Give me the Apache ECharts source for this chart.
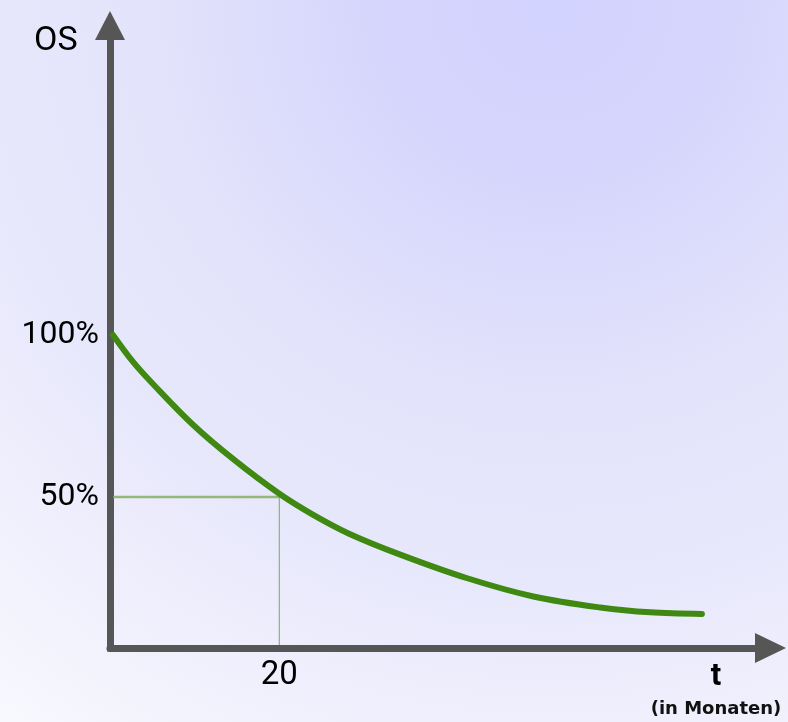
<!DOCTYPE html>
<html><head><meta charset="utf-8">
<script src="https://cdn.jsdelivr.net/npm/echarts@6/dist/echarts.min.js"></script>
<style>html,body{margin:0;padding:0;background:#fff}#c{width:788px;height:722px}</style>
</head><body><div id="c"></div>
<script>
// Data
const months   = [0.35, 2.75, 5.1, 9.8, 14.6, 20, 24, 28.3, 34.2, 42.1, 50, 57.9, 63.8, 69.9];
const survival = [100, 91.6, 84.8, 72.3, 61.6, 51.0, 44.5, 38.6, 32.3, 25.0, 19.3, 15.9, 14.4, 13.9];
const refH_x = [0.4, 20];
const refH_y = [50, 50];
const refV_x = [20, 20];
const refV_y = [50, 4.3];
const yTicks = [50, 100];
const xTicks = [20];
const yAxisTitle = 'OS';
const xAxisTitle = 't';
const xAxisUnit = '(in Monaten)';

const zip = (a, b) => a.map((v, i) => [v, b[i]]);
const FONT = "Roboto, 'Liberation Sans', sans-serif";

const chart = echarts.init(document.getElementById('c'), null, {renderer: 'canvas'});
chart.setOption({
  animation: false,
  backgroundColor: {
    type: 'radial', x: 0.7, y: 0, r: 1.25,
    colorStops: [
      {offset: 0, color: '#d2d2ff'},
      {offset: 0.2, color: '#d6d6fd'},
      {offset: 0.45, color: '#e3e3fb'},
      {offset: 0.65, color: '#e8e8fc'},
      {offset: 1, color: '#f8f8fe'}
    ]
  },
  grid: {left: 110, right: 17.5, top: 25.5, bottom: 74, containLabel: false},
  xAxis: {
    type: 'value', min: 0, max: 78,
    axisLine: {show: true, onZero: false, symbol: ['none', 'triangle'], symbolSize: [30, 31],
      lineStyle: {color: '#565656', width: 7}},
    axisTick: {show: false},
    splitLine: {show: false},
    axisLabel: {customValues: xTicks, margin: 11, color: '#000',
      fontFamily: FONT, fontSize: 33, formatter: '{value}'}
  },
  yAxis: {
    type: 'value', min: 3.4, max: 195.5,
    axisLine: {show: true, onZero: false, symbol: ['none', 'triangle'], symbolSize: [30, 29],
      lineStyle: {color: '#565656', width: 7, cap: 'square'}},
    axisTick: {show: false},
    splitLine: {show: false},
    axisLabel: {customValues: yTicks, margin: 11, color: '#000',
      fontFamily: FONT, fontSize: 32, formatter: '{value}%'}
  },
  graphic: [
    {type: 'text', x: 34, y: 41, style: {text: yAxisTitle, fill: '#000', font: "34px " + FONT, textVerticalAlign: 'middle'}},
    {type: 'text', x: 716, y: 677, style: {text: xAxisTitle, fill: '#000', font: "bold 31px " + FONT, textAlign: 'center', textVerticalAlign: 'middle'}},
    {type: 'text', x: 716, y: 709, style: {text: xAxisUnit, fill: '#111', font: "bold 18px 'DejaVu Sans', sans-serif", textAlign: 'center', textVerticalAlign: 'middle'}}
  ],
  series: [
    {type: 'line', data: zip(refH_x, refH_y), symbol: 'none', silent: true,
      lineStyle: {color: '#93b878', width: 2.5}},
    {type: 'line', data: zip(refV_x, refV_y), symbol: 'none', silent: true,
      lineStyle: {color: '#93b878', width: 1.3}},
    {type: 'line', data: zip(months, survival), symbol: 'none', smooth: 0.35, silent: true,
      lineStyle: {color: '#3f8912', width: 6, cap: 'round'}}
  ]
});
</script>
</body></html>
